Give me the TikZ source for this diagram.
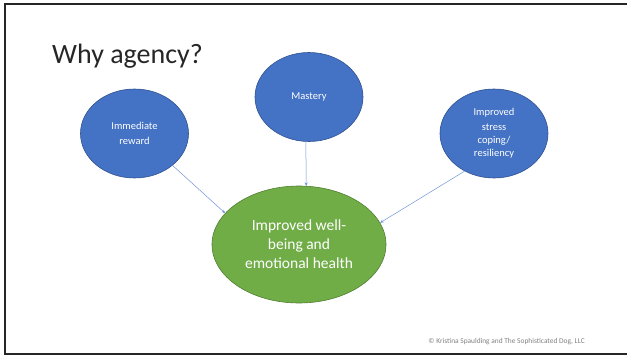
\documentclass[tikz,border=0pt]{standalone}
\usepackage{fontspec}
\setmainfont{Carlito}
\usetikzlibrary{shapes.geometric, arrows.meta, positioning}

\definecolor{bubbleblue}{HTML}{4472C4}
\definecolor{bubbleedge}{HTML}{2F528F}
\definecolor{bubblegreen}{HTML}{70AD47}
\definecolor{greenedge}{HTML}{507E32}
\definecolor{linkblue}{HTML}{6F95D6}

\tikzset{
    reason/.style={ellipse, draw=bubbleedge, fill=bubbleblue, line width=0.6pt,
        minimum width=108pt, minimum height=89pt, inner sep=0pt,
        text=white, align=center, font=\fontsize{10.5}{15}\selectfont},
    outcome/.style={ellipse, draw=greenedge, fill=bubblegreen, line width=0.6pt,
        minimum width=174pt, minimum height=117pt, inner sep=0pt,
        text=white, align=center, font=\fontsize{15.5}{19}\selectfont},
    link/.style={draw=linkblue, line width=0.5pt, -{Stealth[length=3.5pt,width=3pt]}}
}

\begin{document}
\begin{tikzpicture}[x=1pt, y=-1pt]
            \useasboundingbox (0,0) rectangle (627,356);

            % slide frame
            \draw[line width=2pt, black!85] (627,4) -- (4.5,4) -- (4.5,354) -- (627,354);

            % title
            \node[anchor=base west, inner sep=0pt, font=\fontsize{28}{34}\selectfont, text=black!85] (title) at (52,63) {Why agency?};

            % reasons (blue) and outcome (green)
            \node[reason] (reward) at (134.5,133.5) {Immediate\\reward};
            \node[reason] (mastery) at (309,97) {Mastery};
            \node[reason, font=\fontsize{10.5}{13}\selectfont] (coping) at (494,133.5) {Improved\\[2pt]stress\\coping/\\resiliency};

            \node[outcome] (wellbeing) at (299,244.5) {Improved well-\\being and\\emotional health};

            \draw[link] (reward.-40) -- (wellbeing.157);
            \draw[link] (mastery.-94) -- (wellbeing.83);
            \draw[link] (coping.232) -- (wellbeing.15);

            % footer
            \node[anchor=base east, inner sep=0pt, font=\fontsize{7.4}{9}\selectfont, text=black!50] (credit) at (585,343) {\textcopyright\ Kristina Spaulding and The Sophisticated Dog, LLC};
        \end{tikzpicture}
\end{document}
